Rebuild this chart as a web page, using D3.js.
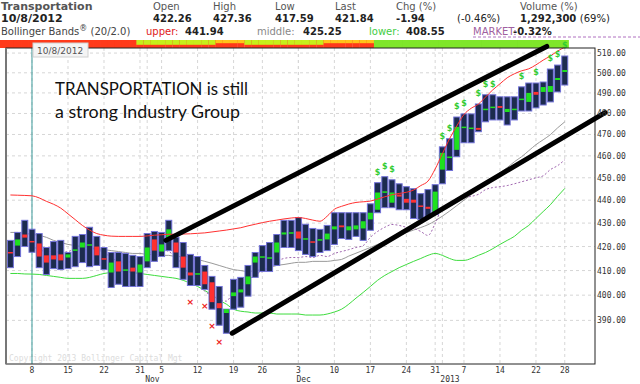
<!DOCTYPE html>
<html><head><meta charset="utf-8">
<script src="https://cdn.jsdelivr.net/npm/d3@7"></script>
<style>body{margin:0;background:#fff}svg{display:block}</style>
</head><body><svg id="c" width="640" height="384"></svg>
<script>
const dates = ["2012-10-03","2012-10-04","2012-10-05","2012-10-08","2012-10-09","2012-10-10","2012-10-11","2012-10-12","2012-10-15","2012-10-16","2012-10-17","2012-10-18","2012-10-19","2012-10-22","2012-10-23","2012-10-24","2012-10-25","2012-10-26","2012-10-31",
"2012-11-01","2012-11-02","2012-11-05","2012-11-06","2012-11-07","2012-11-08","2012-11-09","2012-11-12","2012-11-13","2012-11-14","2012-11-15","2012-11-16","2012-11-19","2012-11-20","2012-11-21","2012-11-23","2012-11-26","2012-11-27","2012-11-28","2012-11-29","2012-11-30",
"2012-12-03","2012-12-04","2012-12-05","2012-12-06","2012-12-07","2012-12-10","2012-12-11","2012-12-12","2012-12-13","2012-12-14","2012-12-17","2012-12-18","2012-12-19","2012-12-20","2012-12-21","2012-12-24","2012-12-26","2012-12-27","2012-12-28","2012-12-31",
"2013-01-02","2013-01-03","2013-01-04","2013-01-07","2013-01-08","2013-01-09","2013-01-10","2013-01-11","2013-01-14","2013-01-15","2013-01-16","2013-01-17","2013-01-18","2013-01-22","2013-01-23","2013-01-24","2013-01-25","2013-01-28"];

const high = [422.6,426.0,431.2,427.36,425.5,419.6,422.1,422.6,417.5,424.3,425.1,428.2,424.3,419.6,417.5,417.5,417.1,416.3,415.8,425.5,426.4,426.0,431.2,423.9,421.7,416.7,415.8,412.1,407.6,403.5,394.4,406.4,407.2,412.1,417.5,420.4,421.7,425.1,431.2,431.2,432.4,429.5,427.7,427.3,429.0,434.5,434.5,434.5,434.5,434.5,438.4,447.8,450.5,449.1,447.3,446.0,445.1,442.9,444.7,446.9,464.2,468.0,478.3,479.8,479.8,484.6,489.1,489.1,488.1,488.1,488.1,493.0,494.9,494.9,495.4,501.9,503.9,508.5];
const low = [411.2,415.8,420.0,417.59,411.2,408.4,410.8,410.4,410.8,411.6,413.3,411.6,412.1,410.4,403.1,404.4,403.5,403.5,403.5,411.2,413.8,415.8,418.3,411.2,406.4,403.9,403.9,402.3,394.4,388.1,385.0,394.4,395.2,399.6,407.2,409.6,409.6,412.1,419.6,419.6,418.3,416.7,415.8,417.5,418.3,420.9,423.4,423.0,424.3,422.6,426.9,434.5,436.7,436.7,435.8,435.8,432.0,431.6,432.4,433.7,447.3,453.3,459.6,466.1,466.1,471.3,476.0,476.9,476.9,474.5,476.9,481.2,481.2,482.7,484.1,485.6,490.5,493.9];
const open = [417.5,420.4,425.1,422.26,421.3,416.3,416.3,416.7,415.4,418.3,419.6,420.4,420.0,415.0,409.2,413.8,410.0,411.2,409.2,413.8,423.0,417.9,423.0,421.7,415.8,409.2,408.4,409.6,405.2,396.8,392.9,399.6,401.1,404.4,413.3,415.4,415.0,417.5,425.1,425.5,426.4,423.0,422.1,422.6,423.0,427.3,429.0,426.9,427.3,427.7,431.6,435.8,443.4,438.9,442.5,440.6,440.2,437.6,437.1,434.5,453.7,459.1,462.8,473.1,472.7,473.1,481.7,482.7,483.6,480.7,481.7,486.6,485.6,490.5,490.5,490.5,496.4,500.4];
const close = [417.3,423.0,423.78,421.84,415.8,413.3,414.6,414.2,416.7,418.7,421.7,420.9,416.3,414.6,413.3,409.6,410.4,409.6,412.5,419.6,418.3,420.9,427.3,417.5,411.2,408.0,408.8,404.4,397.2,394.8,394.4,401.1,402.3,407.6,415.8,415.8,415.4,421.7,426.0,426.0,423.4,423.4,421.7,423.0,425.5,428.6,428.2,428.6,429.0,430.8,434.5,443.4,443.8,443.4,441.6,438.9,438.9,437.1,436.2,443.8,461.4,459.6,473.6,473.6,473.1,472.2,482.2,483.2,482.7,482.2,482.2,487.1,490.0,489.1,492.9,493.4,497.4,501.4];

const upper = [442.3,442.2,442.1,441.94,441.0,439.5,438.2,436.5,434.0,431.5,429.0,427.0,425.5,424.8,424.4,424.3,424.3,424.3,424.3,424.5,424.8,425.0,425.2,425.2,425.3,425.4,425.6,425.8,426.2,426.6,427.0,427.5,428.0,428.8,429.5,430.2,430.8,431.3,431.8,432.2,432.4,432.0,431.3,430.8,433.0,436.0,437.3,438.3,439.0,439.3,439.6,440.5,441.5,442.4,443.0,443.5,444.5,446.5,448.5,454.0,461.0,468.0,474.0,479.5,482.5,484.5,488.0,491.5,494.5,497.5,499.5,501.0,502.0,504.0,506.4,508.5,511.0,513.0];
const middle = [426.0,426.0,425.5,425.25,424.7,423.9,422.6,421.7,420.9,420.4,420.0,419.6,419.1,418.7,418.3,417.9,417.5,417.1,417.1,416.7,416.7,416.3,416.3,415.8,415.8,415.4,414.6,413.8,413.0,412.1,411.2,410.4,410.0,409.6,410.0,410.4,411.2,412.1,412.5,413.0,413.4,413.4,413.8,413.8,413.8,414.2,414.6,416.0,417.2,418.4,419.6,420.9,422.2,423.5,424.7,425.9,427.0,428.1,429.3,431.0,433.0,435.2,437.6,440.0,442.4,444.7,447.3,449.6,452.3,454.6,457.3,459.6,462.4,465.2,467.5,469.9,473.1,476.0];
const lower = [408.8,408.8,408.6,408.55,408.4,408.0,407.6,407.2,406.8,406.8,406.8,407.2,408.0,408.8,409.2,409.6,409.6,409.2,408.8,408.4,408.0,407.6,407.2,406.8,406.0,404.8,403.5,401.9,400.0,398.0,396.4,394.4,393.6,393.3,392.9,392.9,392.9,392.5,392.5,392.5,392.5,392.1,392.1,392.1,392.5,393.3,394.4,396.4,398.8,401.1,403.5,406.0,408.0,409.6,411.2,412.5,413.8,415.0,416.3,417.1,416.3,415.0,414.2,414.2,415.0,416.3,417.5,419.1,420.9,422.6,424.3,426.9,429.0,432.0,435.0,438.0,441.7,445.2];
const market = [419.6,420.0,420.4,420.0,418.7,417.9,417.9,417.5,417.9,418.7,418.3,419.1,418.7,417.5,415.4,413.8,413.4,413.8,414.6,417.1,417.9,418.7,417.9,415.4,412.1,407.2,405.6,401.5,400.0,398.4,397.6,401.5,403.1,405.6,408.4,409.6,411.2,413.8,415.0,415.4,415.4,415.8,415.4,416.3,415.8,417.1,417.9,418.7,419.6,420.4,423.9,426.4,428.2,429.4,429.0,428.2,427.7,426.4,424.7,429.8,436.6,437.9,440.9,441.3,441.7,442.6,444.7,445.6,446.0,446.5,447.3,448.2,449.1,450.0,450.9,453.7,455.5,458.2];
const stripState = [0,0,0,0,0,0,0,0,0,0,0,0,0,0,0,0,0,0, 2,2,2,2,2,2,2,2,2,2,2, 1,1,1,1, 2,2,2,2,2,2,2,2,2,2,2, 1,1,1,1,1,1,1, 3,3,3,3,3,3,3,3,3,3,3,3,3,3,3,3,3,3,3,3,3,3,3,3,3,3,3];

const buySignals = ["2012-12-18","2012-12-19","2012-12-20","2013-01-02","2013-01-03","2013-01-04","2013-01-07","2013-01-09","2013-01-10","2013-01-11","2013-01-17","2013-01-22","2013-01-24","2013-01-25","2013-01-28"];
const sellSignals = ["2012-11-09","2012-11-13","2012-11-14","2012-11-15"];

const tickDates = ["2012-10-08","2012-10-15","2012-10-22","2012-10-31","2012-11-05","2012-11-12","2012-11-19","2012-11-26","2012-12-03","2012-12-10","2012-12-17","2012-12-24","2012-12-31","2013-01-07","2013-01-14","2013-01-22","2013-01-28"];
const monthStarts = [["2012-11-01","Nov"],["2012-12-03","Dec"],["2013-01-02","2013"]];
const yTicks = [390,400,410,420,430,440,450,460,470,480,490,500,510];
// trend lines: [start index, start value, end index, end value]
const trendLines = [[21.6,422.6,74.5,513.4],[30.8,385.0,82.6,480.4]];
const cursorDate = "2012-10-08";

const headerLabels = ["Open","High","Low","Last","Chg (%)","Volume (%)"];
const headerValues = ["422.26","427.36","417.59","421.84","-1.94","(-0.46%)","1,292,300 (69%)"];
const bandValues = {upper:"441.94", middle:"425.25", lower:"408.55", market:"-0.32%"};

const svg = d3.select("#c");
const P = {l:6, r:595, t:48, b:364};
const x = d3.scaleLinear().domain([-0.61, 81.2]).range([P.l, P.r]);
const y = d3.scaleLog().domain([373.3, 512.6]).range([P.b, P.t]);
const idx = d => dates.indexOf(d);
const hf = "DejaVu Sans, Verdana, sans-serif";
const mono = "DejaVu Sans Mono, monospace";

// ---------- header ----------
const h = svg.append("g").attr("font-family", hf).attr("font-size", 10);
h.append("text").attr("x",1).attr("y",10).attr("font-weight","bold").attr("font-size",11).attr("fill","#555").text("Transportation");
const hx = [153,213,275,335,396,520];
headerLabels.forEach((t,i)=>h.append("text").attr("x",hx[i]).attr("y",10).attr("fill","#555").text(t));
h.append("text").attr("x",1).attr("y",22).attr("font-weight","bold").attr("font-size",11).attr("fill","#222").text("10/8/2012");
const vx = [153,213,275,335,396,457,520];
headerValues.forEach((t,i)=>{
  const tx = h.append("text").attr("x",vx[i]).attr("y",22).attr("fill","#222").attr("font-weight", i===5?"normal":"bold");
  if(i===6){ tx.append("tspan").text("1,292,300 "); tx.append("tspan").attr("font-weight","normal").text("(69%)"); }
  else tx.text(t);
});
const r3 = h.append("text").attr("x",1).attr("y",35).attr("fill","#444");
r3.append("tspan").text("Bollinger Bands");
r3.append("tspan").attr("font-size",8).attr("dy",-4).text("®");
r3.append("tspan").attr("dy",4).text(" (20/2.0)");
h.append("text").attr("x",146).attr("y",35).attr("fill","#e02020").text("upper:");
h.append("text").attr("x",185).attr("y",35).attr("fill","#222").attr("font-weight","bold").text(bandValues.upper);
h.append("text").attr("x",257).attr("y",35).attr("fill","#888").text("middle:");
h.append("text").attr("x",303).attr("y",35).attr("fill","#222").attr("font-weight","bold").text(bandValues.middle);
h.append("text").attr("x",369).attr("y",35).attr("fill","#44cc44").text("lower:");
h.append("text").attr("x",406).attr("y",35).attr("fill","#222").attr("font-weight","bold").text(bandValues.lower);
h.append("text").attr("x",473).attr("y",35).attr("fill","#a060a0").text("MARKET:");
h.append("text").attr("x",513).attr("y",35).attr("fill","#222").attr("font-weight","bold").text(bandValues.market);
svg.append("line").attr("x1",473).attr("x2",640).attr("y1",37).attr("y2",37).attr("stroke","#b070c0").attr("stroke-dasharray","3,2");

// ---------- strip ----------
const stripTop = ["#ff3a1a","#ffc41a","#c6ef1a","#7fe62a"];
const stripBot = ["#ff3a1a","#ff3a1a","#ff3a1a","#7fe62a"];
const stripFrac = [1,0.4,0.6,1];
const sg = svg.append("g");
stripState.forEach((s,k)=>{
  const x0 = k===0 ? 0 : x(k)-3.6, w = x(k)+3.6-x0;
  sg.append("rect").attr("x",x0).attr("y",40).attr("width",w+0.3).attr("height",8).attr("fill",stripBot[s]);
  sg.append("rect").attr("x",x0).attr("y",40).attr("width",w+0.3).attr("height",8*stripFrac[s]).attr("fill",stripTop[s]);
});

// ---------- grid ----------
const g = svg.append("g");
g.selectAll(".hg").data(yTicks).join("line").attr("x1",P.l).attr("x2",P.r).attr("y1",d=>y(d)).attr("y2",d=>y(d))
  .attr("stroke","#d6d6d6").attr("stroke-dasharray","3,3");
const vlines = tickDates.concat(monthStarts.map(m=>m[0]));
g.selectAll(".vg").data(vlines).join("line").attr("x1",d=>x(idx(d))).attr("x2",d=>x(idx(d))).attr("y1",P.t).attr("y2",P.b)
  .attr("stroke","#d6d6d6").attr("stroke-dasharray","3,3");
g.append("text").attr("x",9).attr("y",361).attr("font-family",mono).attr("font-size",8).attr("fill","#dcdcdc").text("Copyright 2013 Bollinger Capital Mgt");

// cursor line
g.append("line").attr("x1",x(idx(cursorDate))).attr("x2",x(idx(cursorDate))).attr("y1",P.t).attr("y2",P.b).attr("stroke","#3a9a9a");

// ---------- plot ----------
svg.append("clipPath").attr("id","pc").append("rect").attr("x",P.l).attr("y",P.t).attr("width",P.r-P.l).attr("height",P.b-P.t);
const pg = svg.append("g").attr("clip-path","url(#pc)");
const line = d3.line().x((d,k)=>x(k)).y(d=>y(d)).curve(d3.curveMonotoneX);
pg.append("path").attr("d",line(lower)).attr("fill","none").attr("stroke","#3ddc3d").attr("stroke-width",1);
pg.append("path").attr("d",line(middle)).attr("fill","none").attr("stroke","#9a9a9a").attr("stroke-width",1);
pg.append("path").attr("d",line(market)).attr("fill","none").attr("stroke","#a066b0").attr("stroke-width",1).attr("stroke-dasharray","2,2");

const bars = pg.append("g");
dates.forEach((d,k)=>{
  const cx = x(k);
  bars.append("rect").attr("x",cx-3).attr("y",y(high[k])).attr("width",6).attr("height",y(low[k])-y(high[k]))
    .attr("fill","#1c2b4e").attr("stroke","#7272d8").attr("stroke-width",1);
  const o = open[k], c = close[k];
  const top = y(Math.max(o,c)), bot = y(Math.min(o,c));
  const hgt = Math.max(bot-top, 1.5);
  bars.append("rect").attr("x",cx-2.5).attr("y",(top+bot)/2-hgt/2).attr("width",5).attr("height",hgt)
    .attr("fill", c>=o ? "#1ee01e" : "#ff3030");
});
pg.append("path").attr("d",line(upper)).attr("fill","none").attr("stroke","#ff3030").attr("stroke-width",1);

// signals
const sig = svg.append("g").attr("font-family",hf).attr("text-anchor","middle");
buySignals.forEach(d=>{const k=idx(d); sig.append("text").attr("x",x(k)).attr("y",y(high[k])-8).attr("font-size",8).attr("font-weight","bold").attr("fill","#33cc33").text("$");});
sellSignals.forEach(d=>{const k=idx(d); sig.append("text").attr("x",x(k)).attr("y",y(low[k])+20).attr("font-size",9).attr("font-weight","bold").attr("fill","#ee2222").text("×");});

// frame
svg.append("rect").attr("x",P.l).attr("y",P.t).attr("width",P.r-P.l).attr("height",P.b-P.t).attr("fill","none").attr("stroke","#222").attr("stroke-width",1);
svg.append("line").attr("x1",P.l).attr("x2",P.l).attr("y1",P.t).attr("y2",P.b).attr("stroke","#777").attr("stroke-width",2);

// trend lines
trendLines.forEach(t=>{
  svg.append("line").attr("x1",x(t[0])).attr("y1",y(t[1])).attr("x2",x(t[2])).attr("y2",y(t[3]))
    .attr("stroke","#000").attr("stroke-width",5).attr("stroke-linecap","round");
});

// y axis labels
const ya = svg.append("g").attr("font-family",mono).attr("font-size",8).attr("fill","#333");
yTicks.forEach(v=>ya.append("text").attr("x",597).attr("y",y(v)+3).text(v.toFixed(2)));

// x axis labels
const xa = svg.append("g").attr("font-family",mono).attr("font-size",8).attr("fill","#333");
tickDates.forEach(d=>xa.append("text").attr("x",x(idx(d))).attr("y",373).attr("text-anchor","middle").text(+d.slice(8)));
monthStarts.forEach(m=>xa.append("text").attr("x",x(idx(m[0]))-2).attr("y",382).text(m[1]));

// date box
svg.append("rect").attr("x",33).attr("y",43).attr("width",55).attr("height",14).attr("fill","#f4f4f4").attr("stroke","#d0d0d0");
svg.append("text").attr("x",37).attr("y",54).attr("font-family",hf).attr("font-size",9).attr("fill","#555").text(cursorDate.slice(5,7).replace(/^0/,"")+"/"+ +cursorDate.slice(8)+"/"+cursorDate.slice(0,4));

// annotation
const an = svg.append("g").attr("font-family","Lato, 'Open Sans', sans-serif").attr("font-size",18).attr("fill","#111");
an.append("text").attr("x",55).attr("y",95).attr("textLength",193).attr("lengthAdjust","spacingAndGlyphs").text("TRANSPORTATION is still");
an.append("text").attr("x",55).attr("y",118).attr("textLength",185).attr("lengthAdjust","spacingAndGlyphs").text("a strong Industry Group");
</script></body></html>
